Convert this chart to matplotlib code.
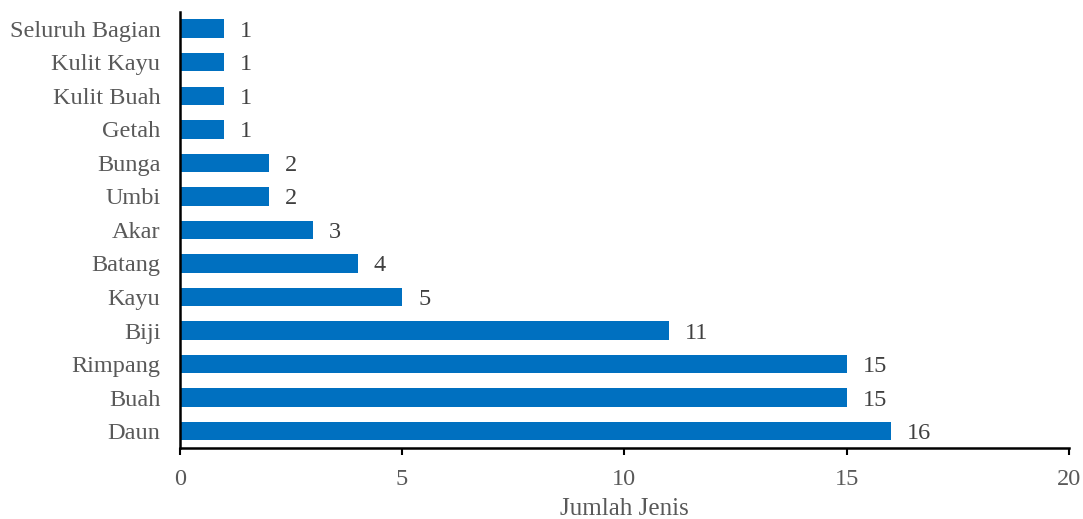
import matplotlib.pyplot as plt

plt.rcParams['font.family'] = ['Liberation Serif', 'DejaVu Serif']

bagian = ['Daun', 'Buah', 'Rimpang', 'Biji', 'Kayu', 'Batang', 'Akar',
          'Umbi', 'Bunga', 'Getah', 'Kulit Buah', 'Kulit Kayu', 'Seluruh Bagian']
jumlah = [16, 15, 15, 11, 5, 4, 3, 2, 2, 1, 1, 1, 1]

text_color = '#595959'
bar_color = '#0070C0'

fig = plt.figure(figsize=(10.83, 5.19), dpi=100)
ax = fig.add_axes([0.166, 0.137, 0.821, 0.84])

pos = list(range(len(bagian)))
ax.barh(pos, jumlah, height=0.55, color=bar_color)

for y, v in zip(pos, jumlah):
    ax.text(v + 0.36, y, str(v), va='center_baseline', ha='left',
            fontsize=17.5, color='#404040')

ax.set_xlim(0, 20)
ax.set_ylim(-0.5, len(bagian) - 0.5)
ax.set_xticks([0, 5, 10, 15, 20])
ax.set_yticks(pos)
ax.set_yticklabels(bagian, va='center_baseline')
ax.tick_params(axis='x', colors=text_color, labelsize=17.5, length=5, width=1.5, pad=10)
ax.tick_params(axis='x', color='black')
ax.tick_params(axis='y', colors=text_color, labelsize=17.5, length=0, pad=14)
ax.set_xlabel('Jumlah Jenis', fontsize=18, color=text_color, labelpad=6)

for side in ['top', 'right']:
    ax.spines[side].set_visible(False)
for side in ['left', 'bottom']:
    ax.spines[side].set_linewidth(1.8)
    ax.spines[side].set_color('black')

fig.savefig('out.png', dpi=100)
